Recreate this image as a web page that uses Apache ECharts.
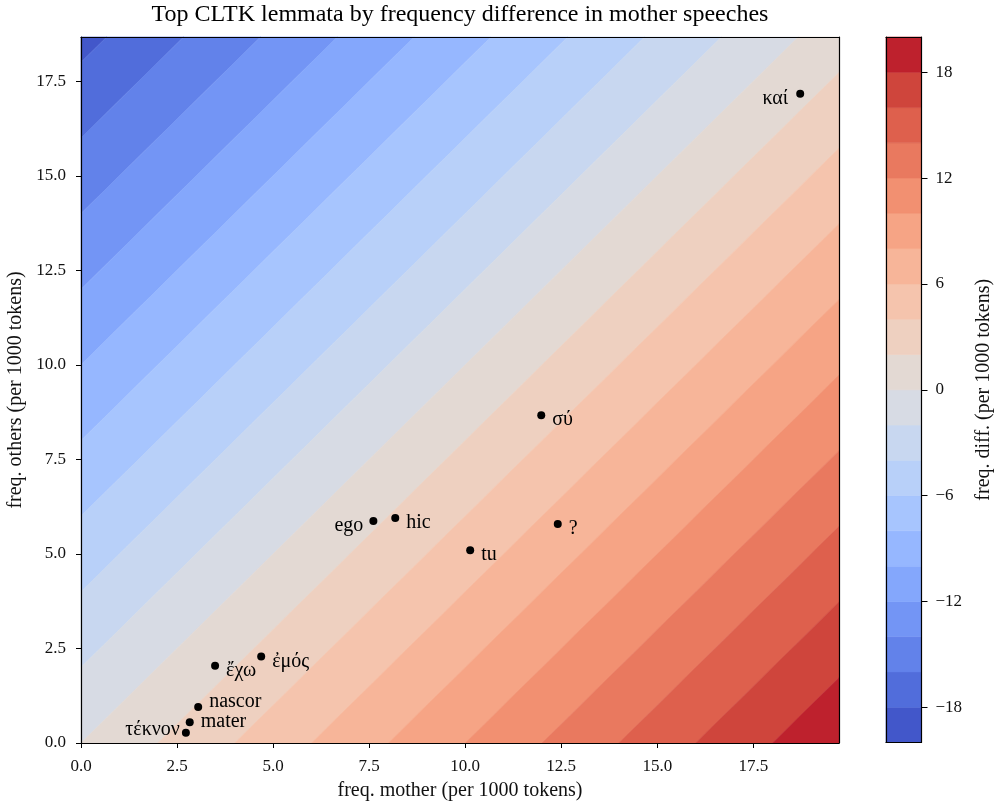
<!DOCTYPE html>
<html>
<head>
<meta charset="utf-8">
<script src="https://cdn.jsdelivr.net/npm/echarts@6/dist/echarts.min.js"></script>
<style>html,body{margin:0;padding:0;background:#fff}#chart{width:994px;height:806px}</style>
</head>
<body>
<div id="chart"></div>
<script>
// ---- data ----
const words = ['καί', 'σύ', 'ego', 'hic', 'tu', '?', 'ἔχω', 'ἐμός', 'nascor', 'mater', 'τέκνον'];
const freqMother = [18.72, 11.98, 7.61, 8.18, 10.13, 12.41, 3.49, 4.69, 3.05, 2.83, 2.73];
const freqOthers = [17.17, 8.67, 5.87, 5.95, 5.10, 5.79, 2.04, 2.29, 0.95, 0.55, 0.27];
const contourLevels = [-20, -18, -16, -14, -12, -10, -8, -6, -4, -2, 0, 2, 4, 6, 8, 10, 12, 14, 16, 18, 20];
const axisTicks = [0, 2.5, 5, 7.5, 10, 12.5, 15, 17.5];
const colorbarTicks = [-18, -12, -6, 0, 6, 12, 18];

// ---- style ----
const FONT = 'Liberation Serif';
const X_MAX = 19.73, Y_MAX = 18.67;
const bandColors = [
  'rgb(66,87,202)', 'rgb(81,109,219)', 'rgb(98,130,234)', 'rgb(115,149,245)', 'rgb(132,167,252)',
  'rgb(150,183,255)', 'rgb(167,197,254)', 'rgb(184,208,249)', 'rgb(200,215,240)', 'rgb(215,219,228)',
  'rgb(227,217,211)', 'rgb(238,208,192)', 'rgb(245,196,173)', 'rgb(247,181,153)', 'rgb(246,164,133)',
  'rgb(242,144,113)', 'rgb(233,121,95)', 'rgb(222,96,77)', 'rgb(207,69,60)', 'rgb(190,33,45)'
];
const labelStyle = {
  'καί': { position: 'left', distance: 8, offset: [0, 5] },
  'ego': { position: 'left', distance: 6, offset: [0, 5] },
  'τέκνον': { position: 'left', distance: 2, offset: [0, -3] },
  'nascor': { position: 'right', distance: 7, offset: [0, -5] },
  'mater': { position: 'right', distance: 7, offset: [0, 0] }
};

const bands = [];
for (let i = 0; i < contourLevels.length - 1; i++) bands.push([contourLevels[i], contourLevels[i + 1]]);

// clip rectangle polygon to lo <= x - y <= hi (in data space)
function clip(poly, keep, level) {
  const out = [];
  for (let i = 0; i < poly.length; i++) {
    const a = poly[i], b = poly[(i + 1) % poly.length];
    const fa = a[0] - a[1], fb = b[0] - b[1];
    const ina = keep(fa), inb = keep(fb);
    if (ina) out.push(a);
    if (ina !== inb) {
      const t = (level - fa) / (fb - fa);
      out.push([a[0] + t * (b[0] - a[0]), a[1] + t * (b[1] - a[1])]);
    }
  }
  return out;
}
function bandPolygon(lo, hi) {
  let poly = [[0, 0], [X_MAX, 0], [X_MAX, Y_MAX], [0, Y_MAX]];
  poly = clip(poly, f => f >= lo, lo);
  if (poly.length) poly = clip(poly, f => f <= hi, hi);
  return poly;
}

const fmtMinus = v => (v < 0 ? '\u2212' + Math.abs(v) : String(v));
const tickCommon = { show: true, length: 5, lineStyle: { color: '#000', width: 1 } };
const lineCommon = { show: true, onZero: false, lineStyle: { color: '#000', width: 1.2 } };
const frameOnly = { splitLine: { show: false }, axisLine: lineCommon, axisTick: { show: false }, axisLabel: { show: false } };

const scatterData = words.map((w, i) => {
  const st = labelStyle[w] || { position: 'right', distance: 7, offset: [0, 5] };
  return {
    name: w,
    value: [freqMother[i], freqOthers[i]],
    label: { show: true, formatter: w, position: st.position, distance: st.distance, offset: st.offset }
  };
});

const chart = echarts.init(document.getElementById('chart'), null, { renderer: 'canvas' });
chart.setOption({
  animation: false,
  backgroundColor: '#fff',
  textStyle: { fontFamily: FONT },
  title: {
    text: 'Top CLTK lemmata by frequency difference in mother speeches',
    left: 460, top: 3, padding: 0, textAlign: 'center',
    textStyle: { fontFamily: FONT, fontSize: 24, fontWeight: 'normal', color: '#000' }
  },
  grid: [
    { left: 81, top: 37, width: 758, height: 706, containLabel: false, outerBoundsMode: 'none' },
    { left: 886, top: 37, width: 35.5, height: 705.5, containLabel: false, outerBoundsMode: 'none' }
  ],
  xAxis: [
    {
      gridIndex: 0, type: 'value', min: 0, max: X_MAX, position: 'bottom', z: 10,
      splitLine: { show: false }, axisLine: lineCommon,
      axisTick: Object.assign({ customValues: axisTicks }, tickCommon),
      axisLabel: { customValues: axisTicks, formatter: v => v.toFixed(1), fontFamily: FONT, fontSize: 17, color: '#111', margin: 15 },
      name: 'freq. mother (per 1000 tokens)', nameLocation: 'middle', nameGap: 38,
      nameTextStyle: { fontFamily: FONT, fontSize: 20, color: '#111' }
    },
    Object.assign({ gridIndex: 0, type: 'value', min: 0, max: X_MAX, position: 'top', z: 10 }, frameOnly),
    Object.assign({ gridIndex: 1, type: 'value', min: 0, max: 1, position: 'bottom', z: 10 }, frameOnly),
    Object.assign({ gridIndex: 1, type: 'value', min: 0, max: 1, position: 'top', z: 10 }, frameOnly)
  ],
  yAxis: [
    {
      gridIndex: 0, type: 'value', min: 0, max: Y_MAX, position: 'left', z: 10,
      splitLine: { show: false }, axisLine: lineCommon,
      axisTick: Object.assign({ customValues: axisTicks }, tickCommon),
      axisLabel: { customValues: axisTicks, formatter: v => v.toFixed(1), fontFamily: FONT, fontSize: 17, color: '#111', margin: 15 },
      name: 'freq. others (per 1000 tokens)', nameLocation: 'middle', nameGap: 52, nameRotate: 90,
      nameTextStyle: { fontFamily: FONT, fontSize: 20, color: '#111' }
    },
    Object.assign({ gridIndex: 0, type: 'value', min: 0, max: Y_MAX, position: 'right', z: 10 }, frameOnly),
    {
      gridIndex: 1, type: 'value', min: -20, max: 20, position: 'right', z: 10,
      splitLine: { show: false }, axisLine: lineCommon,
      axisTick: Object.assign({ customValues: colorbarTicks }, tickCommon, { length: 6 }),
      axisLabel: { customValues: colorbarTicks, formatter: fmtMinus, fontFamily: FONT, fontSize: 17, color: '#111', margin: 14 },
      name: 'freq. diff. (per 1000 tokens)', nameLocation: 'middle', nameGap: 52, nameRotate: 90,
      nameTextStyle: { fontFamily: FONT, fontSize: 20, color: '#111' }
    },
    Object.assign({ gridIndex: 1, type: 'value', min: -20, max: 20, position: 'left', z: 10 }, frameOnly)
  ],
  series: [
    {
      type: 'custom', name: 'contour', xAxisIndex: 0, yAxisIndex: 0, z: 1, silent: true,
      data: bands, encode: { x: -1, y: -1 },
      renderItem: (params, api) => {
        const lo = api.value(0), hi = api.value(1);
        const poly = bandPolygon(lo, hi);
        if (poly.length < 3) return null;
        const color = bandColors[params.dataIndex];
        return {
          type: 'polygon',
          shape: { points: poly.map(p => api.coord(p)) },
          style: { fill: color, stroke: color, lineWidth: 0.6 }
        };
      }
    },
    {
      type: 'custom', name: 'colorbar', xAxisIndex: 2, yAxisIndex: 2, z: 1, silent: true,
      data: bands, encode: { x: -1, y: -1 },
      renderItem: (params, api) => {
        const lo = api.value(0), hi = api.value(1);
        const p1 = api.coord([0, hi]), p2 = api.coord([1, lo]);
        const color = bandColors[params.dataIndex];
        return {
          type: 'rect',
          shape: { x: p1[0], y: p1[1], width: p2[0] - p1[0], height: p2[1] - p1[1] },
          style: { fill: color, stroke: color, lineWidth: 0.6 }
        };
      }
    },
    {
      type: 'scatter', name: 'lemmata', xAxisIndex: 0, yAxisIndex: 0, z: 5,
      symbol: 'circle', symbolSize: 8,
      itemStyle: { color: '#000', opacity: 1 },
      label: { fontFamily: FONT, fontSize: 20, color: '#000' },
      emphasis: { disabled: true },
      data: scatterData
    }
  ]
});
</script>
</body>
</html>
